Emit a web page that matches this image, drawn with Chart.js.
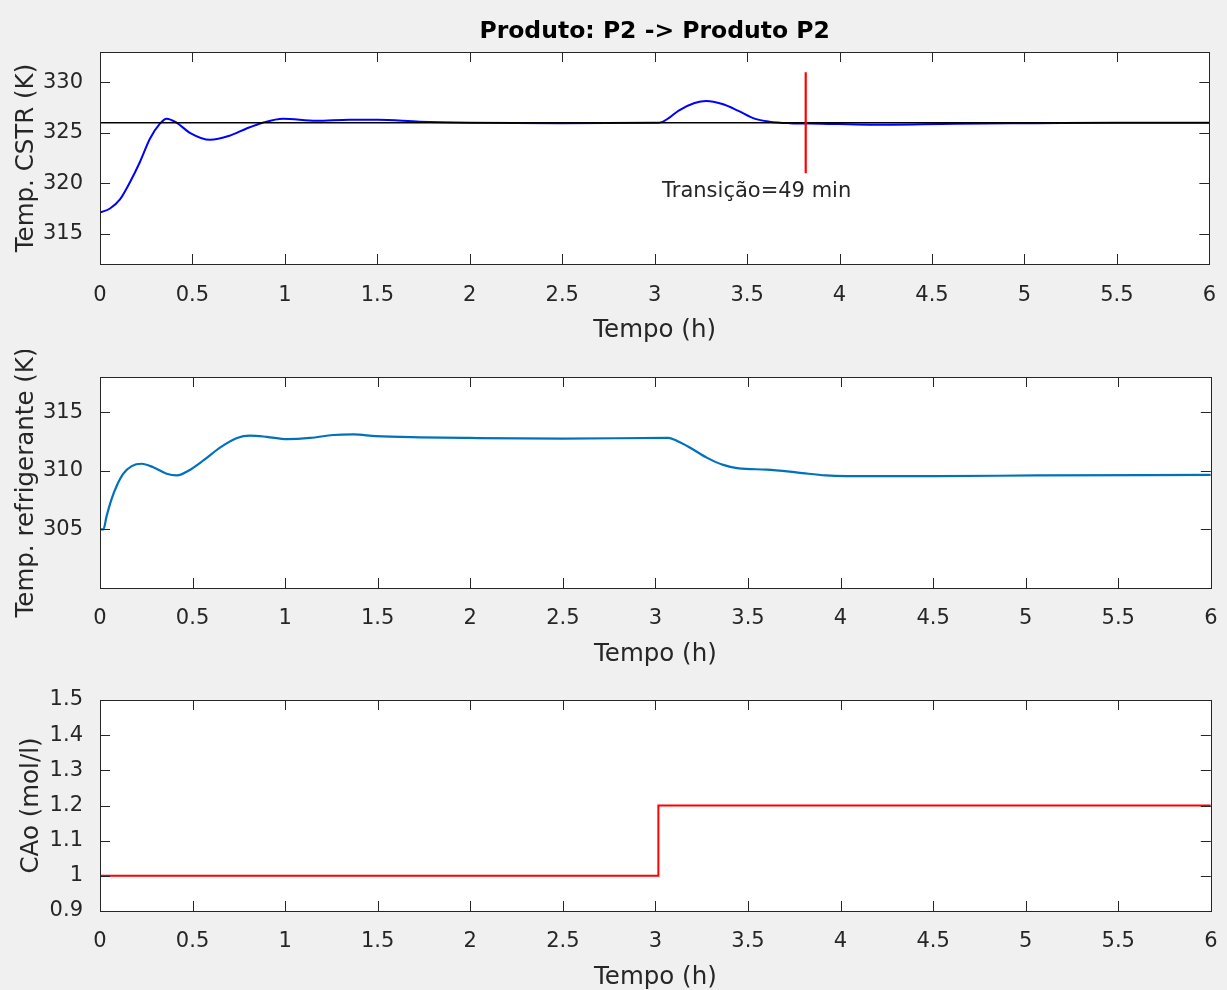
<!DOCTYPE html>
<html>
<head>
<meta charset="utf-8">
<script src="https://cdn.jsdelivr.net/npm/chart.js@4"></script>
<style>
  html, body { margin: 0; padding: 0; background: #f0f0f0; overflow: hidden; }
  canvas { display: block; }
</style>
</head>
<body>
<canvas id="cstr" width="1227" height="350"></canvas>
<canvas id="refrig" width="1227" height="320"></canvas>
<canvas id="cao" width="1227" height="320"></canvas>
<script>
/* ── DATA ── */
const xTicks = [0, 0.5, 1, 1.5, 2, 2.5, 3, 3.5, 4, 4.5, 5, 5.5, 6];

const timeCstr = [0, 0.054, 0.108, 0.162, 0.216, 0.27, 0.324, 0.36, 0.414, 0.486, 0.595, 0.70, 0.79, 0.88, 0.99,
                  1.17, 1.35, 1.5, 1.73, 2.0, 2.5, 3.0, 3.024, 3.08, 3.13, 3.216, 3.28, 3.366, 3.45, 3.54, 3.62,
                  3.73, 3.9, 4.16, 4.63, 5.06, 5.5, 6.0];
const tempCstr = [317.1, 317.5, 318.4, 320.1, 322.1, 324.4, 325.9, 326.4, 326.0, 325.0, 324.3, 324.7, 325.4, 326.0, 326.4,
                  326.2, 326.3, 326.3, 326.1, 326.0, 325.95, 326.0, 326.0, 326.5, 327.2, 327.95, 328.15, 327.85, 327.2, 326.4, 326.1,
                  325.95, 325.9, 325.8, 325.9, 325.95, 326.0, 326.0];
const setpointCstr = 326;
const yTicksCstr = [315, 320, 325, 330];

const transitionTime = 3.817;          // 3 h + 49 min
const transitionSpan = [321, 331];
const transitionText = 'Transição=49 min';
const transitionLabelAt = [3.04, 319.14];

const timeRefrig = [0, 0.018, 0.036, 0.063, 0.09, 0.126, 0.171, 0.225, 0.288, 0.36, 0.414, 0.477, 0.56, 0.65, 0.74,
                    0.81, 0.90, 1.01, 1.135, 1.26, 1.37, 1.49, 1.73, 2.0, 2.5, 3.07, 3.11, 3.195, 3.28, 3.366, 3.45,
                    3.60, 3.77, 3.92, 4.03, 4.52, 5.06, 6.0];
const tempRefrig = [305.0, 305.0, 306.15, 307.6, 308.7, 309.75, 310.4, 310.6, 310.3, 309.75, 309.6, 310.0, 310.9, 312.0, 312.8,
                    313.0, 312.9, 312.7, 312.8, 313.05, 313.1, 312.95, 312.85, 312.8, 312.75, 312.8, 312.6, 311.9, 311.1, 310.5, 310.2,
                    310.1, 309.85, 309.6, 309.55, 309.55, 309.6, 309.65];
const yTicksRefrig = [305, 310, 315];

const timeCao = [0, 3.016, 3.016, 6];
const caoValues = [1, 1, 1.2, 1.2];
const yTicksCao = [0.9, 1, 1.1, 1.2, 1.3, 1.4, 1.5];

/* ── SHARED STYLE ── */
const AXIS = '#262626';
const TICK = 10;
Chart.defaults.font.family = "'DejaVu Sans', sans-serif";
Chart.defaults.color = AXIS;

const pts = (xs, ys) => xs.map((x, i) => ({ x, y: ys[i] }));
const fmt = v => String(Math.round(v * 100) / 100);

// white axes background, inward ticks on all four sides, box outline
const matlabBox = {
  id: 'matlabBox',
  beforeDraw(chart) {
    const { ctx, chartArea: a } = chart;
    ctx.save();
    ctx.fillStyle = '#ffffff';
    ctx.fillRect(a.left, a.top, a.right - a.left, a.bottom - a.top);
    ctx.restore();
  },
  afterDraw(chart) {
    const { ctx, chartArea: a, scales: { x, y } } = chart;
    ctx.save();
    ctx.strokeStyle = AXIS;
    ctx.lineWidth = 1;
    ctx.beginPath();
    x.ticks.forEach(t => {
      const px = Math.round(x.getPixelForValue(t.value)) + 0.5;
      ctx.moveTo(px, a.bottom); ctx.lineTo(px, a.bottom - TICK);
      ctx.moveTo(px, a.top);    ctx.lineTo(px, a.top + TICK);
    });
    y.ticks.forEach(t => {
      const py = Math.round(y.getPixelForValue(t.value)) + 0.5;
      ctx.moveTo(a.left, py);  ctx.lineTo(a.left + TICK, py);
      ctx.moveTo(a.right, py); ctx.lineTo(a.right - TICK, py);
    });
    ctx.stroke();
    ctx.strokeRect(Math.round(a.left) + 0.5, Math.round(a.top) + 0.5,
                   Math.round(a.right - a.left), Math.round(a.bottom - a.top));
    ctx.restore();
  }
};

const transitionLabel = {
  id: 'transitionLabel',
  afterDatasetsDraw(chart) {
    const { ctx, scales: { x, y } } = chart;
    ctx.save();
    ctx.font = "21px 'DejaVu Sans', sans-serif";
    ctx.fillStyle = AXIS;
    ctx.textAlign = 'left';
    ctx.textBaseline = 'middle';
    ctx.fillText(transitionText, x.getPixelForValue(transitionLabelAt[0]), y.getPixelForValue(transitionLabelAt[1]));
    ctx.restore();
  }
};

function options(o) {
  return {
    responsive: false, animation: false, events: [],
    layout: { padding: { top: o.padTop, right: 12, left: 0, bottom: 0 } },
    elements: { point: { radius: 0 } },
    plugins: {
      legend: { display: false },
      tooltip: { enabled: false },
      title: o.title
        ? { display: true, fullSize: false, text: o.title, color: '#000', font: { size: 23.5, weight: 'bold' },
            padding: { top: 18, bottom: 5.8 } }
        : { display: false }
    },
    scales: {
      x: {
        type: 'linear', min: 0, max: 6,
        afterBuildTicks: s => { s.ticks = xTicks.map(v => ({ value: v })); },
        afterFit: s => { s.height = o.xHeight; },
        grid: { display: false }, border: { display: false },
        ticks: { color: AXIS, font: { size: 21 }, padding: o.tickPad, maxRotation: 0, autoSkip: false, callback: fmt },
        title: { display: true, text: 'Tempo (h)', color: AXIS, font: { size: 24.5, lineHeight: 1 },
                 padding: { top: 0, bottom: o.xTitlePad } }
      },
      y: {
        type: 'linear', min: o.yMin, max: o.yMax,
        afterBuildTicks: s => { s.ticks = o.yTicks.map(v => ({ value: v })); },
        afterFit: s => { s.width = 100; },
        grid: { display: false }, border: { display: false },
        ticks: { color: AXIS, font: { size: 21 }, padding: 9, autoSkip: false, callback: fmt },
        title: { display: true, text: o.yTitle, color: AXIS, font: { size: 24.5, lineHeight: 1 },
                 padding: { top: o.yTitlePad, bottom: 0 } }
      }
    }
  };
}

/* ── TOP: reactor temperature ── */
new Chart(document.getElementById('cstr'), {
  type: 'line',
  data: {
    datasets: [
      { data: [{ x: transitionTime, y: transitionSpan[0] }, { x: transitionTime, y: transitionSpan[1] }],
        borderColor: '#ff0000', borderWidth: 2.2 },
      { data: [{ x: 0, y: setpointCstr }, { x: 6, y: setpointCstr }],
        borderColor: '#000000', borderWidth: 1.5 },
      { data: pts(timeCstr, tempCstr), borderColor: '#0000ff', borderWidth: 2,
        cubicInterpolationMode: 'monotone' }
    ]
  },
  options: options({ title: 'Produto: P2 -> Produto P2', padTop: 0, yMin: 312, yMax: 333, yTicks: yTicksCstr,
                     yTitle: 'Temp. CSTR (K)', yTitlePad: 14, xHeight: 86, tickPad: 11, xTitlePad: 7.5 }),
  plugins: [matlabBox, transitionLabel]
});

/* ── MIDDLE: coolant temperature ── */
new Chart(document.getElementById('refrig'), {
  type: 'line',
  data: {
    datasets: [
      { data: pts(timeRefrig, tempRefrig), borderColor: '#0072bd', borderWidth: 2.2,
        cubicInterpolationMode: 'monotone' }
    ]
  },
  options: options({ padTop: 27, yMin: 300, yMax: 318, yTicks: yTicksRefrig,
                     yTitle: 'Temp. refrigerante (K)', yTitlePad: 14, xHeight: 82, tickPad: 9.5, xTitlePad: 3.5 }),
  plugins: [matlabBox]
});

/* ── BOTTOM: feed concentration ── */
new Chart(document.getElementById('cao'), {
  type: 'line',
  data: {
    datasets: [
      { data: pts(timeCao, caoValues), borderColor: '#ff0000', borderWidth: 2 }
    ]
  },
  options: options({ padTop: 30, yMin: 0.9, yMax: 1.5, yTicks: yTicksCao,
                     yTitle: 'CAo (mol/l)', yTitlePad: 19, xHeight: 79, tickPad: 9.5, xTitlePad: 0 }),
  plugins: [matlabBox]
});
</script>
</body>
</html>
